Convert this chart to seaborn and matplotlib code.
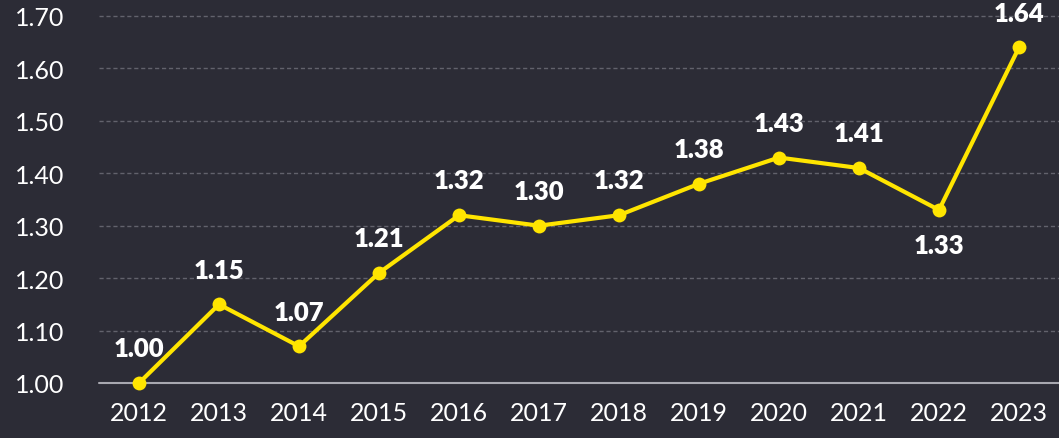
import matplotlib
matplotlib.use("Agg")
import matplotlib.pyplot as plt
import seaborn as sns
import pandas as pd

years = ["2012", "2013", "2014", "2015", "2016", "2017", "2018", "2019", "2020", "2021", "2022", "2023"]
values = [1.00, 1.15, 1.07, 1.21, 1.32, 1.30, 1.32, 1.38, 1.43, 1.41, 1.33, 1.64]
below = ["2022"]
yticks = [1.00, 1.10, 1.20, 1.30, 1.40, 1.50, 1.60, 1.70]

bg = "#2c2c36"
yellow = "#FFE500"

sns.set_theme(style="dark")
plt.rcParams['font.family'] = ['Lato', 'DejaVu Sans']

df = pd.DataFrame({"year": years, "value": values})
df["x"] = range(len(years))

fig = plt.figure(figsize=(10.59, 4.39), dpi=100, facecolor=bg)
ax = fig.add_axes([0.0935, 0.1253, 0.9065, 0.836])
ax.set_facecolor(bg)

for t in yticks[1:]:
    ax.axhline(t, color="#62626c", lw=1, ls=(0, (3, 2)), zorder=0)
ax.axhline(yticks[0], color="#a8a8b0", lw=1.5, zorder=1)

sns.lineplot(data=df, x="x", y="value", ax=ax, color=yellow, lw=3,
             marker="o", markersize=10, markeredgewidth=0, zorder=3)

for xi, yr, v in zip(df["x"], years, values):
    off = -25 if yr in below else 25
    ax.annotate(f"{v:.2f}", (xi, v), xytext=(0, off), textcoords="offset points",
                ha="center", va="center", color="white", fontsize=18.5, fontweight="heavy")

ax.set_xlim(-0.5, len(years) - 0.5)
ax.set_ylim(1.0, 1.7)
ax.set_xticks(list(df["x"]))
ax.set_xticklabels(years)
ax.set_yticks(yticks)
ax.set_yticklabels([f"{t:.2f}" for t in yticks])
ax.tick_params(colors="white", labelsize=18, length=0)
ax.tick_params(axis="y", pad=25)
ax.tick_params(axis="x", pad=13)
ax.set_xlabel("")
ax.set_ylabel("")
ax.grid(False)
for s in ax.spines.values():
    s.set_visible(False)
for c in ax.get_children():
    try:
        c.set_clip_on(False)
    except Exception:
        pass

fig.savefig("out.png", dpi=100, facecolor=bg)
